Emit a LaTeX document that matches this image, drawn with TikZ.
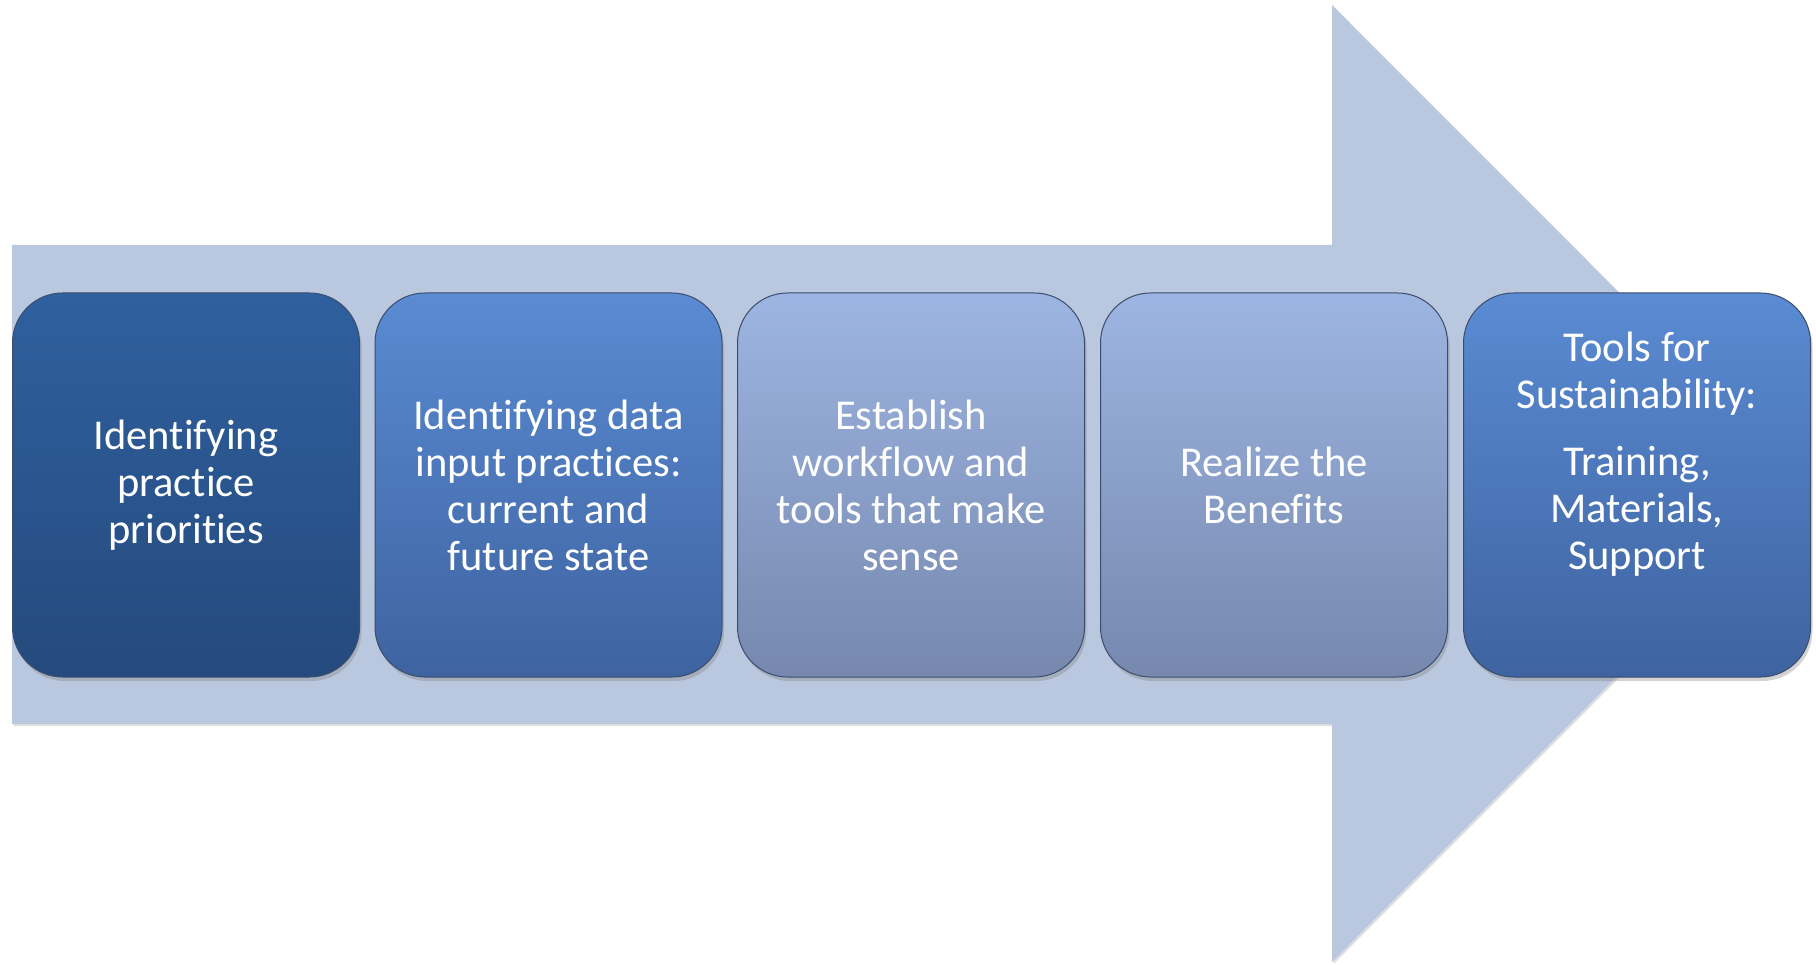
\documentclass[tikz,border=0pt]{standalone}
\usepackage{fontspec}
\setmainfont{Carlito}[Ligatures={NoCommon}]
\usetikzlibrary{shadows}
\definecolor{arrowfill}{HTML}{B9C7DF}
\definecolor{darkT}{HTML}{2F609F}
\definecolor{darkB}{HTML}{254A7D}
\definecolor{midT}{HTML}{5A8BD3}
\definecolor{midB}{HTML}{3E63A0}
\definecolor{lightT}{HTML}{9DB5E2}
\definecolor{lightB}{HTML}{7688AE}
\definecolor{edge}{HTML}{3B4D6B}
\tikzset{
  stepbox/.style={rectangle, rounded corners=50pt, minimum width=347pt, minimum height=384pt,
    draw=edge, line width=1pt, text=white, align=center,
    font=\fontsize{42.5}{47}\selectfont,
    drop shadow={shadow xshift=2pt, shadow yshift=-4pt, opacity=0.35}},
  darkbox/.style={stepbox, top color=darkT, bottom color=darkB},
  midbox/.style={stepbox, top color=midT, bottom color=midB},
  lightbox/.style={stepbox, top color=lightT, bottom color=lightB},
  boxtext/.style={text=white, align=center, font=\fontsize{42.5}{47}\selectfont, inner sep=0pt}
}
\begin{document}
\begin{tikzpicture}[x=1pt, y=-1pt]
\useasboundingbox (0,0) rectangle (1816,965);
% big arrow
\fill[arrowfill, drop shadow={shadow xshift=1.5pt, shadow yshift=-2pt, opacity=0.25}]
  (12,245) -- (1332,245) -- (1332,5) -- (1810,483.5) -- (1332,962) -- (1332,724) -- (12,724) -- cycle;
% steps
\node[darkbox]  (b1) at (186,485) {Identifying\\practice\\priorities};
\node[midbox]   (b2) at (548.5,485) {Identifying data\\input practices:\\current and\\future state};
\node[lightbox] (b3) at (911,485) {Establish\\workflow and\\tools that make\\sense};
\node[lightbox] (b4) at (1274,485) {Realize the\\Benefits};
\node[midbox]   (b5) at (1637,485) {};
\node[boxtext]  (t5) at (1637,454) {Tools for\\Sustainability:\\[20pt]Training,\\Materials,\\Support};
\end{tikzpicture}
\end{document}
